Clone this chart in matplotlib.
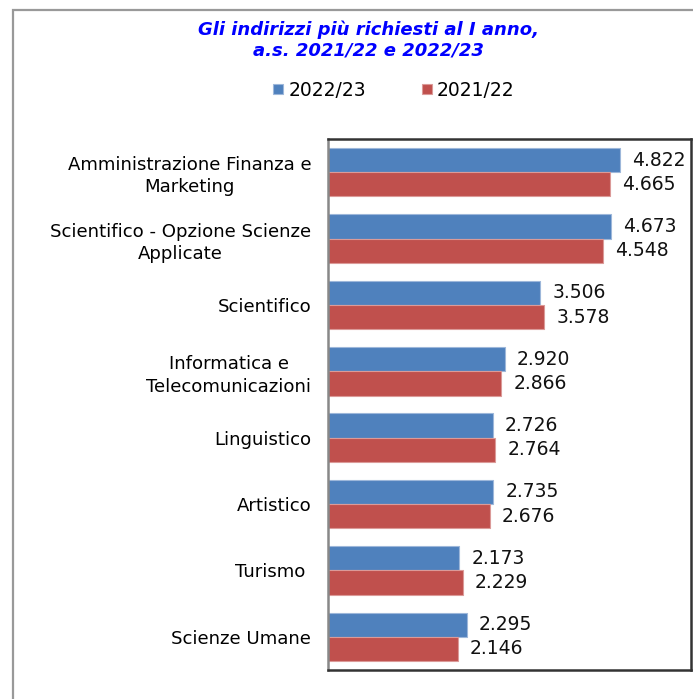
"""
Horizontal bar chart of the most requested first-year school tracks, 2021/22 vs 2022/23.
"""

import matplotlib
matplotlib.use('Agg')
import matplotlib.pyplot as plt
import numpy as np
from matplotlib.patches import Rectangle


CATEGORIES = [
    'Amministrazione Finanza e\nMarketing',
    'Scientifico - Opzione Scienze\nApplicate',
    'Scientifico',
    'Informatica e\nTelecomunicazioni',
    'Linguistico',
    'Artistico',
    'Turismo ',
    'Scienze Umane',
]
VALUES_2022_23 = [4822, 4673, 3506, 2920, 2726, 2735, 2173, 2295]
VALUES_2021_22 = [4665, 4548, 3578, 2866, 2764, 2676, 2229, 2146]
SERIES_LABELS = ['2022/23', '2021/22']

BLUE = '#4F81BD'
RED = '#C0504D'


def fmt(v):
    # Italian thousands separator
    return f'{v:,}'.replace(',', '.')


def main():

    plt.rcParams['font.family'] = ['DejaVu Sans']

    W, H = 693, 699
    fig = plt.figure(figsize=(W / 100, H / 100), dpi=100)

    # outer frame of the chart area (only top and left edges are visible)
    fig.patches.append(Rectangle((13 / W, -0.1), 1.2, 1 - 10 / H + 0.1,
                                 transform=fig.transFigure, fill=False,
                                 edgecolor='#999999', linewidth=1.6))

    ax = fig.add_axes([328 / W, 1 - 670 / H, (691 - 328) / W, (670 - 139) / H])

    n = len(CATEGORIES)
    y = np.arange(n)
    h = 0.365

    bars_a = ax.barh(y - h / 2, VALUES_2022_23, height=h, color=BLUE,
                     edgecolor='#9DB7DA', linewidth=0.8, label=SERIES_LABELS[0])
    bars_b = ax.barh(y + h / 2, VALUES_2021_22, height=h, color=RED,
                     edgecolor='#DB9A98', linewidth=0.8, label=SERIES_LABELS[1])

    for bars in (bars_a, bars_b):
        for b in bars:
            ax.annotate(fmt(int(b.get_width())),
                        (b.get_width(), b.get_y() + b.get_height() / 2),
                        xytext=(12, 0), textcoords='offset pixels',
                        ha='left', va='center', fontsize=13.5, color='#111111')

    ax.set_xlim(0, 6000)
    ax.set_ylim(n - 0.5, -0.5)
    ax.set_xticks([])
    ax.set_yticks(y)
    ax.set_yticklabels(CATEGORIES, fontsize=13.1, multialignment='center',
                       linespacing=1.3)
    ax.tick_params(axis='y', length=0, pad=12)

    for side in ('top', 'right', 'bottom'):
        ax.spines[side].set_color('#333333')
        ax.spines[side].set_linewidth(1.8)
    ax.spines['left'].set_color('#888888')
    ax.spines['left'].set_linewidth(1.8)

    fig.text(368 / W, 1 - 40 / H,
             'Gli indirizzi più richiesti al I anno,\na.s. 2021/22 e 2022/23',
             ha='center', va='center', fontsize=13, fontweight='bold',
             fontstyle='italic', color='#0000FF', linespacing=1.2)

    fig.legend(handles=[bars_a, bars_b], labels=SERIES_LABELS,
               loc='center', bbox_to_anchor=(394 / W, 1 - 90 / H), ncol=2,
               frameon=False, fontsize=13.5, handlelength=0.5, handleheight=0.5,
               handletextpad=0.3, columnspacing=3.0)

    fig.savefig('out.png', dpi=100)


if __name__ == '__main__':
    main()
